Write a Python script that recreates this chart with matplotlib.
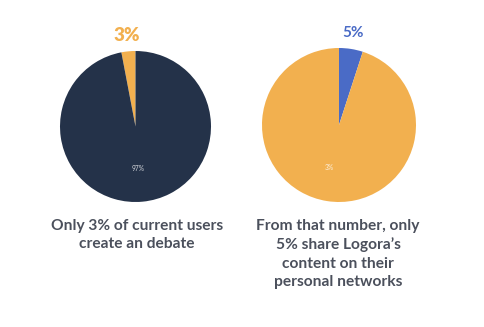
import matplotlib
matplotlib.use("Agg")
import matplotlib.pyplot as plt

plt.rcParams['font.family'] = ['Lato', 'DejaVu Sans']

# Data
left_labels = ["Create a debate", "Other users"]
left_values = [3, 97]
right_labels = ["Share content", "Others"]
right_values = [5, 95]
left_inner_label = "97%"
right_inner_label = "3%"
left_top_label = "3%"
right_top_label = "5%"
left_caption = "Only 3% of current users\ncreate an debate"
right_caption = "From that number, only\n5% share Logora\u2019s\ncontent on their\npersonal networks"

NAVY = "#243249"
ORANGE = "#F2B04F"
BLUE = "#4A6BC6"
TEXT = "#4B505C"

W, H = 485, 327
fig = plt.figure(figsize=(W / 100, H / 100), dpi=100)

def px_axes(cx, cy, r):
    return fig.add_axes([(cx - r) / W, (H - cy - r) / H, 2 * r / W, 2 * r / H])

# Left pie
ax1 = px_axes(135.5, 126.5, 75.5)
ax1.pie(left_values, colors=[ORANGE, NAVY], startangle=90,
        counterclock=True, radius=1, wedgeprops=dict(linewidth=0))
ax1.set_xlim(-1, 1); ax1.set_ylim(-1, 1)
ax1.text(0.04, -0.55, left_inner_label, color="white", fontsize=4.8,
         ha="center", va="center", alpha=0.8)
ax1.text(-0.12, 1.2, left_top_label, color=ORANGE, fontsize=13.5, fontweight="heavy",
         ha="center", va="center", clip_on=False)

# Right pie
ax2 = px_axes(339, 125, 77)
ax2.pie(right_values, colors=[BLUE, ORANGE], startangle=90,
        counterclock=False, radius=1, wedgeprops=dict(linewidth=0))
ax2.set_xlim(-1, 1); ax2.set_ylim(-1, 1)
ax2.text(-0.12, -0.55, right_inner_label, color="white", fontsize=4.8,
         ha="center", va="center", alpha=0.8)
ax2.text(0.18, 1.2, right_top_label, color=BLUE, fontsize=11, fontweight="bold",
         ha="center", va="center", clip_on=False)

# Captions
fig.text(137 / W, 1 - 219 / H, left_caption, color=TEXT, fontsize=11.2,
         fontweight="bold", ha="center", va="top", linespacing=1.38)
fig.text(338 / W, 1 - 219 / H, right_caption, color=TEXT, fontsize=11.2,
         fontweight="bold", ha="center", va="top", linespacing=1.38)

fig.savefig("out.png", dpi=100, facecolor="white")
